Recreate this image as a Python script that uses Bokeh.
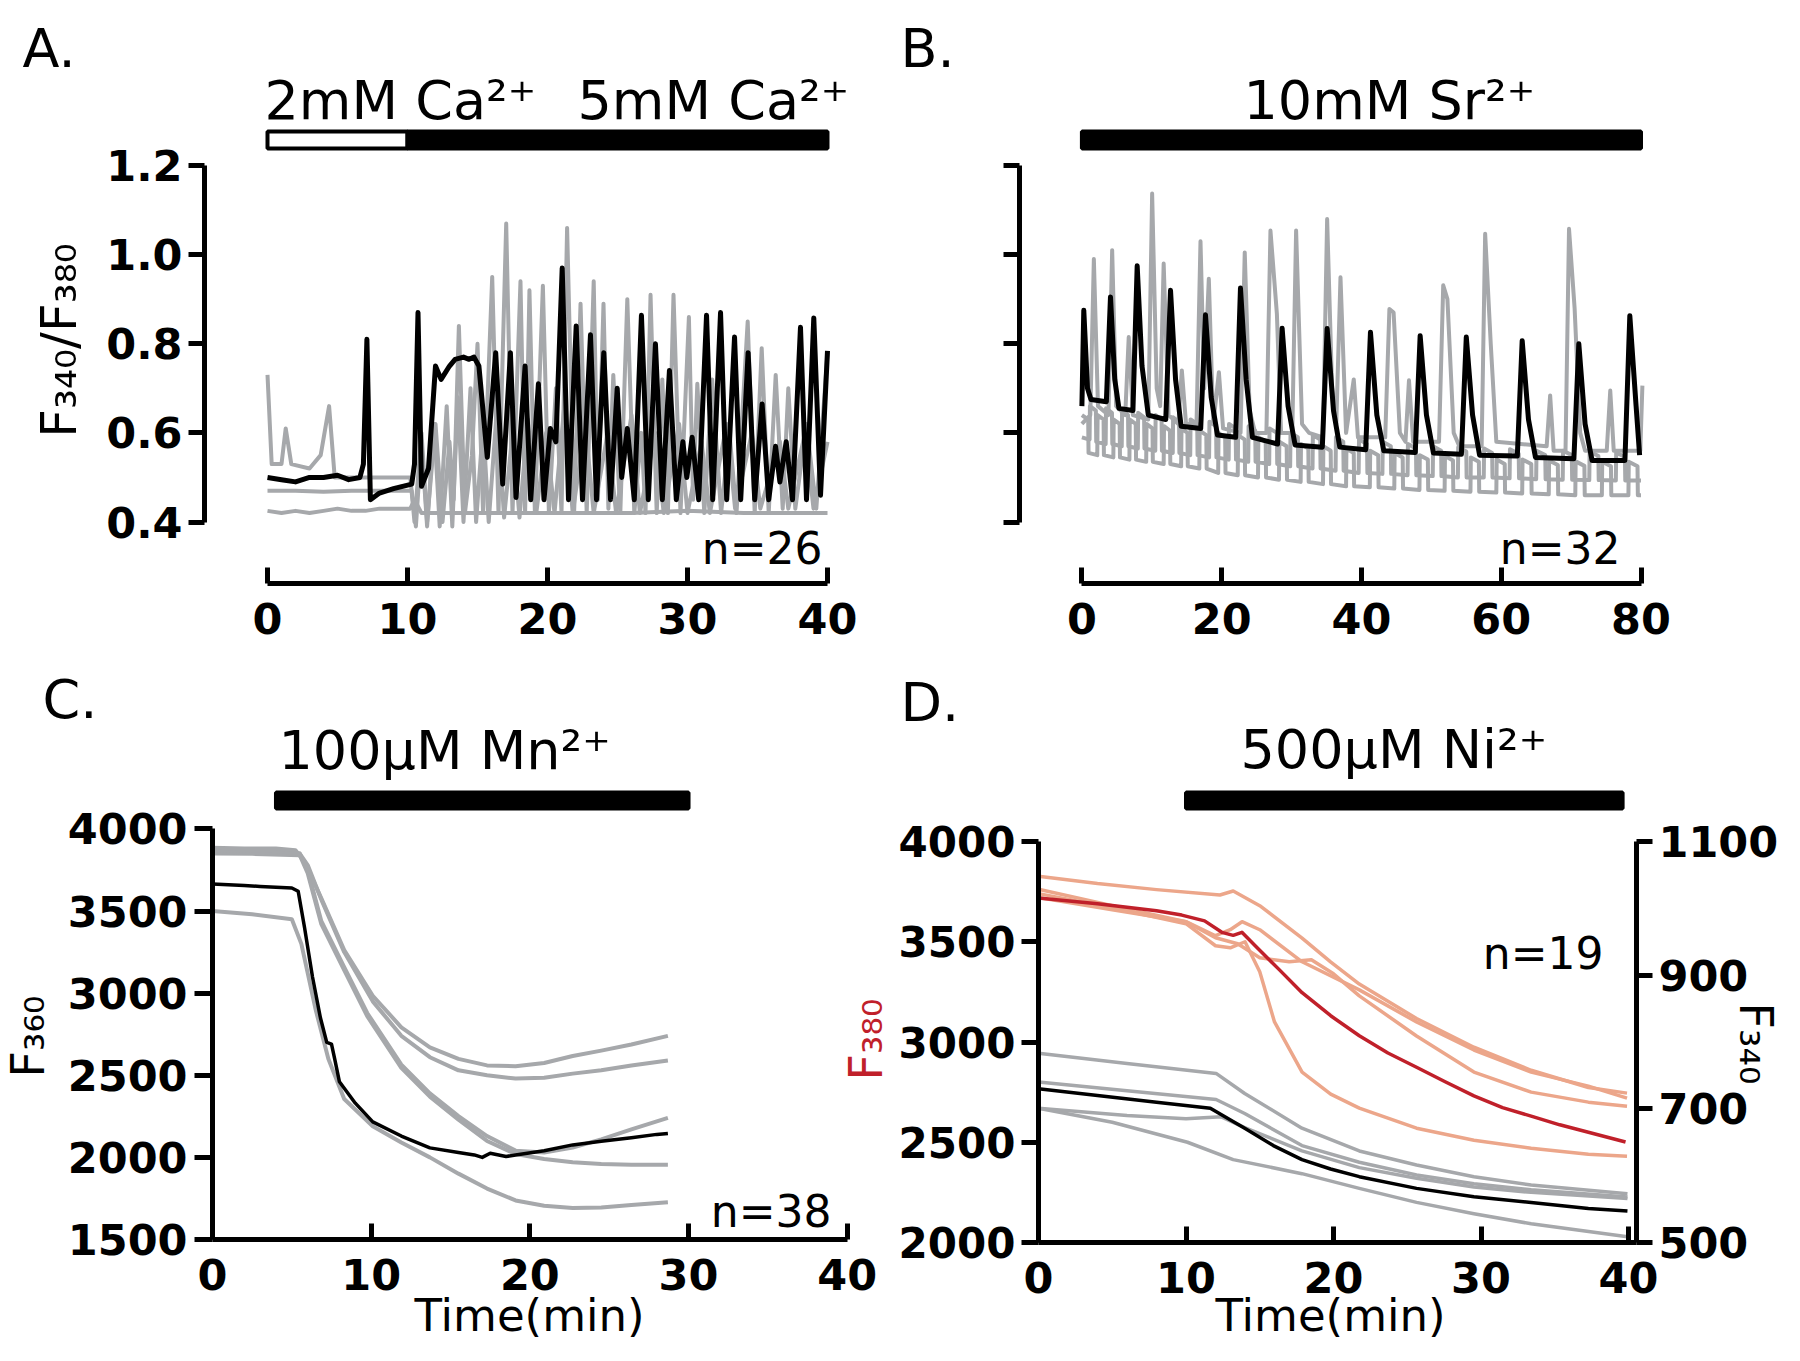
import math
from bokeh.plotting import figure
from bokeh.models import Range1d, LinearAxis, FixedTicker, NumeralTickFormatter, Label
from bokeh.layouts import column, row
from bokeh.embed import file_html
from bokeh.resources import INLINE

# ---------------- DATA ----------------
# Panel A: F340/F380 ratio vs time (min)
A_TICKS_X = [0, 10, 20, 30, 40]
A_TICKS_Y = [0.4, 0.6, 0.8, 1.0, 1.2]
A_TREAT_START = [0, 10]
A_TREAT_END = [10, 40]
A_TREAT_LABELS = ["2mM Ca\u00b2\u207a", "5mM Ca\u00b2\u207a"]
A_N = "n=26"
A_BLACK = [(0.0,0.50),(1.0,0.495),(2.0,0.49),(3.0,0.50),(4.0,0.50),(5.0,0.505),(5.8,0.495),(6.6,0.50),
           (6.85,0.53),(7.1,0.81),(7.35,0.45),(8.0,0.465),(9.0,0.475),(10.3,0.485),(10.5,0.53),(10.75,0.87),
           (11.0,0.48),(11.5,0.52),(12.0,0.75),(12.4,0.72),(13.0,0.75),(13.4,0.765),(14.0,0.77),(14.4,0.765),
           (14.75,0.77),(15.1,0.75),(15.7,0.545),(16.3,0.78),(16.8,0.485),(17.35,0.78),(17.75,0.455),(18.4,0.75),
           (18.8,0.45),(19.35,0.71),(19.75,0.45),(20.2,0.61),(20.6,0.58),(21.05,0.97),(21.5,0.45),(22.05,0.84),
           (22.5,0.45),(23.07,0.82),(23.5,0.45),(24.02,0.78),(24.5,0.45),(24.98,0.70),(25.3,0.50),(25.7,0.61),
           (26.2,0.45),(26.71,0.864),(27.2,0.45),(27.71,0.80),(28.2,0.45),(28.71,0.74),(29.2,0.45),(29.67,0.58),
           (29.95,0.50),(30.33,0.59),(30.8,0.45),(31.36,0.864),(31.8,0.45),(32.36,0.87),(32.8,0.45),(33.36,0.815),
           (33.8,0.45),(34.33,0.78),(34.8,0.45),(35.33,0.665),(35.8,0.45),(36.29,0.57),(36.6,0.49),(37.05,0.58),
           (37.5,0.45),(38.07,0.837),(38.5,0.45),(39.02,0.858),(39.5,0.46),(40.0,0.784)]
A_GRAY1 = [(0,0.73),(0.3,0.53),(1.0,0.53),(1.3,0.61),(1.7,0.53),(3.0,0.52),(3.8,0.55),(4.4,0.66),(4.8,0.50),
           (6.0,0.50),(8.0,0.50),(10.2,0.50),(10.5,0.40),(11.0,0.60),(11.4,0.40),(12.0,0.62),(12.5,0.40),
           (13.0,0.58),(13.3,0.45),(13.67,0.84),(14.1,0.42),(14.6,0.55),(15.0,0.80),(15.4,0.42),(16.05,0.95),
           (16.5,0.42),(17.05,1.07),(17.5,0.42),(18.07,0.94),(18.4,0.42),(18.71,0.92),(19.1,0.42),(19.67,0.93),
           (20.1,0.42),(20.6,0.70),(21.0,0.42),(21.4,1.06),(21.9,0.42),(22.36,0.89),(22.8,0.42),(23.3,0.94),
           (23.6,0.45),(24.0,0.89),(24.35,0.43),(24.7,0.73),(25.2,0.42),(25.7,0.90),(26.2,0.42),(26.7,0.60),
           (27.0,0.42),(27.36,0.91),(27.8,0.42),(28.2,0.72),(28.6,0.42),(29.0,0.91),(29.5,0.42),(30.1,0.86),
           (30.4,0.45),(30.7,0.71),(31.2,0.42),(31.76,0.72),(32.4,0.42),(33.0,0.60),(33.5,0.42),(34.3,0.85),
           (34.8,0.42),(35.3,0.79),(35.8,0.42),(36.3,0.73),(36.8,0.43),(37.2,0.70),(37.7,0.43),(38.5,0.62),
           (39.2,0.43),(40.0,0.78)]
A_GRAY2 = [(0,0.47),(2,0.47),(4,0.468),(6,0.47),(8,0.47),(10.3,0.47),(10.6,0.39),(11.0,0.58),(11.4,0.39),
           (11.9,0.62),(12.3,0.39),(12.8,0.66),(13.2,0.39),(13.6,0.68),(14.0,0.40),(14.5,0.70),(14.9,0.40),
           (15.4,0.62),(15.8,0.40),(16.4,0.66),(16.9,0.41),(17.5,0.60),(18.0,0.41),(18.6,0.63),(19.2,0.42),
           (19.9,0.60),(20.5,0.42),(21.2,0.66),(21.8,0.42),(22.7,0.62),(23.3,0.42),(24.3,0.60),(24.9,0.42),
           (26.0,0.64),(26.6,0.42),(27.7,0.60),(28.3,0.42),(29.4,0.62),(30.0,0.42),(31.0,0.58),(31.6,0.42),
           (32.8,0.62),(33.4,0.43),(34.6,0.60),(35.2,0.43),(36.6,0.58),(37.2,0.43),(38.4,0.60),(39.0,0.43),
           (40.0,0.58)]
A_GRAY3 = [(0,0.425),(1,0.42),(2,0.425),(3,0.42),(4,0.425),(5,0.43),(6,0.425),(7,0.425),(8,0.43),(9,0.43),
           (10.2,0.43),(10.5,0.45),(11,0.42),(14,0.42),(18,0.42),(22,0.42),(26,0.42),(30,0.425),(34,0.42),
           (38,0.42),(40,0.42)]

# Panel B: same ratio, 10mM Sr2+
B_TICKS_X = [0, 20, 40, 60, 80]
B_TICKS_Y = [0.4, 0.6, 0.8, 1.0, 1.2]
B_TREAT_START = [0]
B_TREAT_END = [80]
B_TREAT_LABELS = ["10mM Sr\u00b2\u207a"]
B_N = "n=32"
B_BLACK = [(0.0,0.66),(0.27,0.875),(0.8,0.70),(1.3,0.675),(3.5,0.67),(4.09,0.905),(4.7,0.72),(5.3,0.655),
           (7.3,0.65),(7.91,0.975),(8.6,0.75),(9.5,0.64),(12.0,0.63),(12.68,0.92),(13.4,0.72),(14.2,0.615),
           (17.0,0.61),(17.68,0.865),(18.5,0.68),(19.4,0.595),(22.0,0.59),(22.69,0.925),(23.5,0.72),(24.4,0.59),
           (28.0,0.575),(28.65,0.835),(29.5,0.66),(30.5,0.573),(34.4,0.568),(35.09,0.834),(36.0,0.65),(36.9,0.568),
           (40.6,0.562),(41.29,0.826),(42.2,0.64),(43.2,0.56),(47.7,0.556),(48.4,0.818),(49.3,0.64),(50.3,0.555),
           (54.3,0.552),(55.0,0.815),(55.9,0.64),(56.9,0.55),(62.3,0.548),(63.0,0.807),(63.9,0.63),(64.9,0.545),
           (70.4,0.542),(71.1,0.80),(72.0,0.62),(73.0,0.538),(77.7,0.538),(78.4,0.863),(79.3,0.66),(79.8,0.55)]
B_GRAY1 = [(0,0.62),(1.2,0.64),(1.71,0.99),(2.3,0.66),(3.8,0.64),(4.33,1.01),(4.9,0.66),(6.2,0.64),(6.7,0.815),
           (7.3,0.64),(9.5,0.63),(10.05,1.137),(10.7,0.70),(11.2,0.66),(11.7,0.98),(12.4,0.64),(13.8,0.62),
           (14.3,0.74),(14.9,0.62),(16.4,0.62),(16.97,1.03),(17.5,0.70),(18.16,0.946),(18.8,0.62),(19.6,0.736),
           (20.2,0.61),(22.7,0.60),(23.3,1.005),(24.0,0.65),(24.8,0.60),(26.4,0.60),(26.98,1.054),(27.9,0.867),
           (28.5,0.60),(30.1,0.60),(30.65,1.054),(31.5,0.62),(32.5,0.60),(34.5,0.59),(35.09,1.08),(35.8,0.70),
           (36.4,0.62),(37.0,0.949),(37.8,0.60),(38.9,0.72),(39.5,0.59),(43.4,0.59),(44.0,0.878),(44.6,0.87),
           (45.5,0.60),(46.3,0.58),(46.8,0.718),(47.4,0.58),(51.1,0.58),(51.7,0.931),(52.3,0.90),(53.2,0.60),
           (54.0,0.57),(57.2,0.57),(57.7,1.047),(58.5,0.80),(59.3,0.58),(66.5,0.57),(67.0,0.684),(67.5,0.56),
           (69.2,0.56),(69.7,1.058),(70.5,0.88),(71.3,0.60),(72.0,0.56),(75.1,0.56),(75.6,0.695),(76.1,0.56),
           (79.9,0.56),(80.2,0.706)]
B_GRAY2 = [(0.0,0.64),(0.9,0.63),(0.95,0.555),(2.2,0.55),(2.25,0.64),(3.1,0.63),(3.15,0.55),(4.5,0.545),
           (4.55,0.63),(5.4,0.62),(5.45,0.545),(6.8,0.54),(6.85,0.63),(7.7,0.62),(7.75,0.54),(9.2,0.535),
           (9.25,0.62),(10.1,0.61),(10.15,0.535),(11.7,0.53),(11.75,0.615),(12.6,0.605),(12.65,0.53),(14.2,0.525),
           (14.25,0.61),(15.1,0.60),(15.15,0.525),(16.8,0.52),(16.85,0.605),(17.8,0.595),(17.85,0.52),(19.5,0.51),
           (19.55,0.60),(20.5,0.59),(20.55,0.51),(22.3,0.505),(22.35,0.595),(23.3,0.585),(23.35,0.505),(25.2,0.50),
           (25.25,0.59),(26.3,0.58),(26.35,0.50),(28.2,0.495),(28.25,0.58),(29.3,0.57),(29.35,0.495),(31.3,0.49),
           (31.35,0.575),(32.4,0.565),(32.45,0.49),(34.5,0.485),(34.55,0.57),(35.6,0.56),(35.65,0.485),(37.8,0.48),
           (37.85,0.565),(38.9,0.555),(38.95,0.48),(41.2,0.478),(41.25,0.56),(42.4,0.55),(42.45,0.478),(44.7,0.475),
           (44.75,0.555),(45.9,0.545),(45.95,0.475),(48.3,0.472),(48.35,0.55),(49.5,0.54),(49.55,0.472),(51.9,0.47),
           (51.95,0.548),(53.1,0.538),(53.15,0.47),(55.6,0.468),(55.65,0.545),(56.8,0.535),(56.85,0.468),(59.3,0.466),
           (59.35,0.54),(60.5,0.53),(60.55,0.466),(63.0,0.464),(63.05,0.54),(64.3,0.53),(64.35,0.464),(66.8,0.462),
           (66.85,0.538),(68.1,0.528),(68.15,0.462),(70.6,0.46),(70.65,0.536),(71.9,0.526),(71.95,0.46),(74.4,0.46),
           (74.45,0.535),(75.7,0.525),(75.75,0.46),(78.2,0.46),(78.25,0.535),(79.5,0.525),(79.55,0.46),(80.0,0.46)]
B_GRAY3 = [(0.0,0.59),(1.1,0.585),(1.15,0.66),(2.0,0.65),(2.05,0.58),(3.4,0.575),(3.45,0.655),(4.3,0.645),
           (4.35,0.575),(5.7,0.57),(5.75,0.65),(6.6,0.64),(6.65,0.57),(8.0,0.565),(8.05,0.645),(8.9,0.635),
           (8.95,0.565),(10.5,0.56),(10.55,0.64),(11.4,0.63),(11.45,0.56),(13.0,0.555),(13.05,0.635),(13.9,0.625),
           (13.95,0.555),(15.5,0.55),(15.55,0.63),(16.5,0.62),(16.55,0.55),(18.2,0.545),(18.25,0.625),(19.2,0.615),
           (19.25,0.545),(21.0,0.54),(21.05,0.62),(22.0,0.61),(22.05,0.54),(23.8,0.535),(23.85,0.615),(24.8,0.605),
           (24.85,0.535),(26.8,0.53),(26.85,0.61),(27.9,0.60),(27.95,0.53),(29.8,0.525),(29.85,0.60),(30.9,0.59),
           (30.95,0.525),(33.0,0.52),(33.05,0.595),(34.1,0.585),(34.15,0.52),(36.3,0.515),(36.35,0.59),(37.4,0.58),
           (37.45,0.515),(39.6,0.51),(39.65,0.585),(40.8,0.575),(40.85,0.51),(43.0,0.508),(43.05,0.58),(44.2,0.57),
           (44.25,0.508),(46.6,0.505),(46.65,0.575),(47.8,0.565),(47.85,0.505),(50.2,0.503),(50.25,0.57),(51.4,0.56),
           (51.45,0.503),(53.8,0.50),(53.85,0.568),(55.0,0.558),(55.05,0.50),(57.5,0.50),(57.55,0.565),(58.7,0.555),
           (58.75,0.50),(61.2,0.498),(61.25,0.563),(62.5,0.553),(62.55,0.498),(65.0,0.496),(65.05,0.56),(66.3,0.55),
           (66.35,0.496),(68.8,0.495),(68.85,0.56),(70.1,0.55),(70.15,0.495),(72.6,0.494),(72.65,0.558),(73.9,0.548),
           (73.95,0.494),(76.4,0.493),(76.45,0.556),(77.7,0.546),(77.75,0.493),(80.0,0.493)]

# Panel C: F360 vs time, 100uM Mn2+
C_TICKS_X = [0, 10, 20, 30, 40]
C_TICKS_Y = [1500, 2000, 2500, 3000, 3500, 4000]
C_TREAT_START = [4]
C_TREAT_END = [30]
C_TREAT_LABELS = ["100\u03bcM Mn\u00b2\u207a"]
C_N = "n=38"
C_BLACK = [(0,3665),(1,3660),(2,3655),(3,3650),(4,3645),(5,3640),(5.4,3620),(5.8,3400),(6.3,3100),(6.8,2850),
           (7.2,2700),(7.5,2690),(7.7,2600),(8.0,2460),(9.0,2330),(10.1,2216),(11.9,2130),(13.7,2058),(15.5,2030),
           (16.5,2015),(17.0,2000),(17.5,2025),(18.5,2005),(19.1,2015),(20.9,2040),(22.7,2076),(24.5,2098),
           (26.4,2120),(28.0,2140),(28.7,2146)]
C_GRAY_A = [(0,3885),(2,3880),(4,3880),(5.23,3870),(5.8,3800),(6.86,3577),(8.3,3263),(10.1,2984),(11.9,2792),
            (13.7,2670),(15.5,2600),(17.3,2560),(19.1,2555),(20.9,2575),(22.7,2617),(24.5,2650),(26.4,2687),
            (28.7,2740)]
C_GRAY_B = [(0,3870),(2,3868),(4,3866),(5.5,3850),(6.0,3780),(6.9,3560),(8.3,3250),(10.1,2950),(11.9,2740),
            (13.7,2610),(15.5,2530),(17.3,2500),(19.1,2480),(20.9,2485),(22.7,2510),(24.5,2530),(26.4,2560),
            (28.7,2590)]
C_GRAY_C = [(0,3860),(2.5,3858),(5.5,3850),(6.0,3750),(6.86,3438),(8.3,3158),(9.75,2879),(11.9,2565),
            (13.7,2390),(15.5,2251),(17.3,2130),(19.1,2041),(20.9,2030),(22.7,2060),(24.5,2110),(26.4,2170),
            (28.7,2240)]
C_GRAY_D = [(0,3850),(2.5,3848),(5.5,3840),(6.0,3730),(6.86,3420),(8.3,3140),(9.75,2860),(11.9,2545),
            (13.7,2370),(15.5,2230),(17.3,2100),(19.1,2020),(20.9,1990),(22.7,1970),(24.5,1960),(26.4,1955),
            (28.7,1955)]
C_GRAY_E = [(0,3500),(2.5,3480),(5.0,3450),(5.6,3300),(6.5,2900),(7.3,2600),(8.3,2355),(10.1,2190),
            (11.9,2090),(13.7,2000),(15.5,1901),(17.3,1810),(19.1,1738),(20.9,1705),(22.7,1692),(24.5,1695),
            (26.4,1710),(28.7,1727)]

# Panel D: F380 (left, red) and F340 (right, gray) vs time, 500uM Ni2+
D_TICKS_X = [0, 10, 20, 30, 40]
D_TICKS_LEFT = [2000, 2500, 3000, 3500, 4000]
D_TICKS_RIGHT = [500, 700, 900, 1100]
D_TREAT_START = [10]
D_TREAT_END = [39.6]
D_TREAT_LABELS = ["500\u03bcM Ni\u00b2\u207a"]
D_N = "n=19"
D_RED = [(0,3718),(4,3690),(8,3655),(9.71,3633),(11.26,3604),(12.43,3547),(13.2,3532),(13.79,3547),(14.76,3475),
         (16.32,3361),(17.87,3246),(19.81,3131),(21.75,3031),(23.69,2945),(25.63,2874),(27.57,2802),(29.52,2731),
         (31.46,2673),(33.4,2630),(35.34,2587),(37.28,2550),(39.8,2501)]
D_SALMON1 = [(0,3827),(4,3790),(8,3760),(12.3,3733),(13.2,3753),(15.0,3680),(17.87,3518),(19.8,3400),
             (21.75,3289),(25.63,3117),(29.52,2974),(33.4,2859),(37.28,2773),(39.9,2745)]
D_SALMON2 = [(0,3762),(5,3680),(10,3600),(12,3530),(13,3560),(13.8,3600),(15,3560),(17.87,3400),(21.75,3260),
             (25.63,3100),(29.52,2960),(33.4,2850),(37.28,2780),(39.9,2720)]
D_SALMON3 = [(0,3740),(5,3670),(10,3590),(12,3480),(13,3470),(14,3500),(15,3350),(16,3100),(17.87,2850),
             (19.81,2740),(21.75,2670),(25.63,2570),(29.52,2510),(33.4,2470),(37.28,2440),(39.9,2430)]
D_SALMON4 = [(0,3720),(5,3660),(10,3600),(12,3520),(13.5,3490),(15,3420),(17,3400),(18.5,3410),(20,3340),
             (21.75,3230),(25.63,3030),(29.52,2850),(33.4,2750),(37.28,2700),(39.9,2680)]
D_BLACK = [(0,730),(4,720),(8,710),(11.65,701),(13.98,671),(15.92,645),(17.86,624),(19.8,610),(21.75,598.5),
           (25.63,581),(29.52,568.5),(33.4,560),(37.28,551),(39.93,547)]
D_GRAY1 = [(0,783),(6,768),(12.04,753),(13.98,723),(17.86,671),(21.75,637),(25.63,616),(29.52,598.5),
           (33.4,586),(39.93,573)]
D_GRAY2 = [(0,740),(6,727),(12.04,714),(13.98,693),(17.86,645),(21.75,620),(25.63,601),(29.52,588),
           (33.4,579),(39.93,568)]
D_GRAY3 = [(0,701),(6,690),(10,685),(12.4,688),(13.98,672),(17.86,637),(21.75,612),(25.63,596),(29.52,583),
           (33.4,575),(39.93,566)]
D_GRAY4 = [(0,701),(5,680),(10.1,650),(13.2,624),(17.86,603),(21.75,581),(25.63,560),(29.52,543),(33.4,528),
           (39.93,508.5)]

# ---------------- STYLE ----------------
FONT = "DejaVu Sans"
BLACK = "#000000"
GRAY = "#a6a8ab"
SALMON = "#eca68a"
RED = "#c0202a"
TICK_SIZE = "43px"


def panel(ox, oy, w, h, xcal, ycal):
    """Figure whose frame fills the whole canvas; (ox, oy) is its top-left corner on the page."""
    def fx(X):
        return xcal[1] + (X - xcal[0]) * (xcal[3] - xcal[1]) / (xcal[2] - xcal[0])

    def fy(Y):
        return ycal[1] + (Y - ycal[0]) * (ycal[3] - ycal[1]) / (ycal[2] - ycal[0])

    p = figure(width=w, height=h, x_range=Range1d(fx(ox), fx(ox + w)), y_range=Range1d(fy(oy + h), fy(oy)),
               output_backend="svg", toolbar_location=None, x_axis_type=None, y_axis_type=None,
               min_border_left=0, min_border_right=0, min_border_top=0, min_border_bottom=0)
    p.outline_line_color = None
    p.background_fill_color = "white"
    p.border_fill_color = "white"
    return p, fx, fy


def axis(p, side, loc, bounds, ticks, fmt, tick_in, tick_out, standoff, show_labels=True,
         y_range_name=None, size=TICK_SIZE):
    kw = {}
    if y_range_name:
        kw["y_range_name"] = y_range_name
    ax = LinearAxis(fixed_location=loc, bounds=bounds, ticker=FixedTicker(ticks=ticks),
                    formatter=NumeralTickFormatter(format=fmt),
                    axis_line_width=5, axis_line_color=BLACK,
                    major_tick_line_width=5, major_tick_line_color=BLACK,
                    major_tick_in=tick_in, major_tick_out=tick_out, minor_tick_line_color=None,
                    major_label_standoff=standoff, major_label_text_font=FONT,
                    major_label_text_font_style="bold",
                    major_label_text_font_size=size if show_labels else "0px",
                    major_label_text_color=BLACK if show_labels else None, **kw)
    p.add_layout(ax, side)


def text(p, fx, fy, X, Y, s, size, align="left", angle=0.0, color=BLACK):
    # (X, Y): page position of the text's left/centre/right edge and its vertical middle
    p.add_layout(Label(x=fx(X), y=fy(Y), text=s, text_font=FONT, text_font_size=f"{size}px",
                       text_align=align, text_baseline="middle", angle=angle, text_color=color))


def trace(p, pts, color, width, **kw):
    xs = [t for t, v in pts]
    ys = [v for t, v in pts]
    p.line(xs, ys, line_color=color, line_width=width, line_join="round", **kw)


TOP_LEFT_W, TOP_RIGHT_W = 900, 884
BOT_LEFT_W, BOT_RIGHT_W = 894, 890
TOP_H, BOT_H = 652, 693

# ---------------- PANEL A ----------------
pA, fxA, fyA = panel(0, 0, TOP_LEFT_W, TOP_H, (267, 0, 827, 40), (521.5, 0.4, 165, 1.2))
for tr in (A_GRAY3, A_GRAY2, A_GRAY1):
    trace(pA, tr, GRAY, 4)
trace(pA, A_BLACK, BLACK, 5)
pA.quad(left=A_TREAT_START, right=A_TREAT_END, bottom=fyA(148), top=fyA(131),
        fill_color=["white", BLACK], line_color=BLACK, line_width=4)
axis(pA, "left", fxA(204), (0.4, 1.2), A_TICKS_Y, "0.0", 0, 16, 6)
axis(pA, "below", fyA(583), (0, 40), A_TICKS_X, "0", 16, 0, 19)
text(pA, fxA, fyA, 22, 48, "A.", 54)
text(pA, fxA, fyA, 264, 100, A_TREAT_LABELS[0], 54)
text(pA, fxA, fyA, 577, 100, A_TREAT_LABELS[1], 54)
text(pA, fxA, fyA, 822, 548, A_N, 44, align="right")
text(pA, fxA, fyA, 58, 340, "F\u2083\u2084\u2080/F\u2083\u2088\u2080", 50, align="center", angle=math.pi / 2)

# ---------------- PANEL B ----------------
pB, fxB, fyB = panel(TOP_LEFT_W, 0, TOP_RIGHT_W, TOP_H, (1081.4, 0, 1640.5, 80), (521.5, 0.4, 165, 1.2))
for tr in (B_GRAY3, B_GRAY2, B_GRAY1):
    trace(pB, tr, GRAY, 4)
trace(pB, B_BLACK, BLACK, 5)
pB.quad(left=B_TREAT_START, right=B_TREAT_END, bottom=fyB(148), top=fyB(131),
        fill_color=BLACK, line_color=BLACK, line_width=4)
axis(pB, "left", fxB(1019), (0.4, 1.2), B_TICKS_Y, "0.0", 0, 16, 2, show_labels=False)
axis(pB, "below", fyB(583), (0, 80), B_TICKS_X, "0", 16, 0, 19)
text(pB, fxB, fyB, 900, 48, "B.", 54)
text(pB, fxB, fyB, 1243, 100, B_TREAT_LABELS[0], 54)
text(pB, fxB, fyB, 1620, 548, B_N, 44, align="right")

# ---------------- PANEL C ----------------
pC, fxC, fyC = panel(0, TOP_H, BOT_LEFT_W, BOT_H, (212, 0, 846.7, 40), (1239, 1500, 828.4, 4000))
for tr in (C_GRAY_E, C_GRAY_D, C_GRAY_C, C_GRAY_B, C_GRAY_A):
    trace(pC, tr, GRAY, 4)
trace(pC, C_BLACK, BLACK, 3.5)
pC.quad(left=C_TREAT_START, right=C_TREAT_END, bottom=fyC(808), top=fyC(792),
        fill_color=BLACK, line_color=BLACK, line_width=4)
axis(pC, "left", fxC(212), (1500, 4000), C_TICKS_Y, "0", 0, 18, 7)
axis(pC, "below", fyC(1239), (0, 40), C_TICKS_X, "0", 16, 0, 19)
text(pC, fxC, fyC, 42, 699, "C.", 54)
text(pC, fxC, fyC, 278, 750, C_TREAT_LABELS[0], 54)
text(pC, fxC, fyC, 831, 1211, C_N, 44, align="right")
text(pC, fxC, fyC, 27, 1036, "F\u2083\u2086\u2080", 46, align="center", angle=math.pi / 2)
text(pC, fxC, fyC, 529, 1315, "Time(min)", 45, align="center")
# y-axis title of panel D (it lies left of panel D's tick labels)
text(pC, fxC, fyC, 865, 1039, "F\u2083\u2088\u2080", 46, align="center", angle=math.pi / 2, color=RED)

# ---------------- PANEL D ----------------
pD, fxD, fyD = panel(BOT_LEFT_W, TOP_H, BOT_RIGHT_W, BOT_H, (1038, 0, 1628, 40), (1242, 2000, 841, 4000))


def fyR(Y):
    return 500 + (Y - 1242) * (1100 - 500) / (841 - 1242)


pD.extra_y_ranges = {"f340": Range1d(fyR(TOP_H + BOT_H), fyR(TOP_H))}
for tr in (D_GRAY4, D_GRAY3, D_GRAY2, D_GRAY1):
    trace(pD, tr, GRAY, 3.5, y_range_name="f340")
trace(pD, D_BLACK, BLACK, 3.5, y_range_name="f340")
for tr in (D_SALMON4, D_SALMON3, D_SALMON2, D_SALMON1):
    trace(pD, tr, SALMON, 3.5)
trace(pD, D_RED, RED, 3.5)
pD.quad(left=D_TREAT_START, right=D_TREAT_END, bottom=fyD(808), top=fyD(792),
        fill_color=BLACK, line_color=BLACK, line_width=4)
axis(pD, "left", fxD(1038), (2000, 4000), D_TICKS_LEFT, "0", 0, 17, 6, size="42px")
axis(pD, "right", fxD(1636), (500, 1100), D_TICKS_RIGHT, "0", 0, 16, 6, y_range_name="f340")
axis(pD, "below", fyD(1242), (0, fxD(1636)), D_TICKS_X, "0", 16, 0, 19)
text(pD, fxD, fyD, 900, 702, "D.", 54)
text(pD, fxD, fyD, 1240, 749, D_TREAT_LABELS[0], 54)
text(pD, fxD, fyD, 1603, 953, D_N, 44, align="right")
text(pD, fxD, fyD, 1755, 1043, "F\u2083\u2084\u2080", 46, align="center", angle=-math.pi / 2)
text(pD, fxD, fyD, 1330, 1315, "Time(min)", 45, align="center")

layout = column(row(pA, pB), row(pC, pD))
open("out.html", "w").write(file_html(layout, INLINE))
